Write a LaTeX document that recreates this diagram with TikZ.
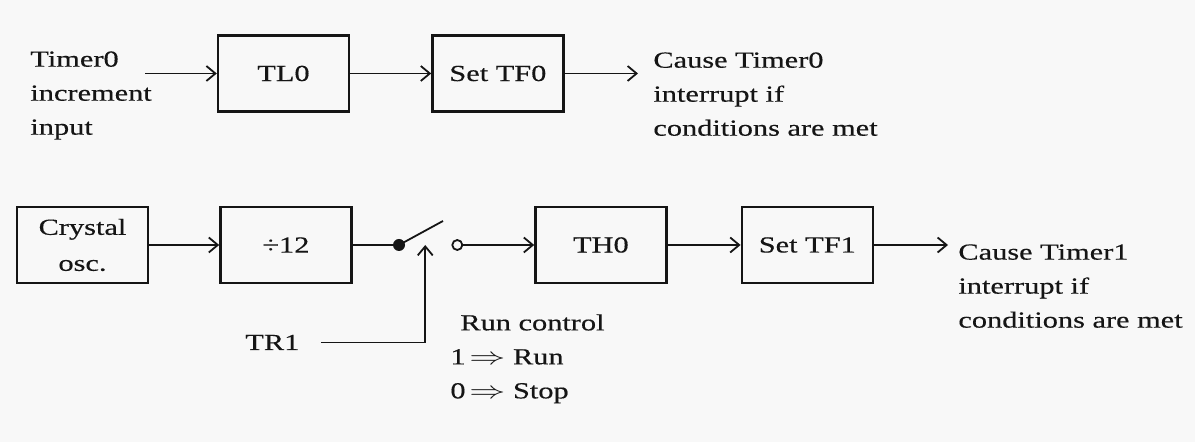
\documentclass[tikz,border=0pt]{standalone}
\usepackage{fontspec}
\setmainfont{Liberation Serif}[FakeStretch=1.32,FakeBold=0.4]
\usepackage{graphicx}
\usepackage{tikz}
\usetikzlibrary{positioning,arrows.meta,calc}
\definecolor{ink}{HTML}{151515}
\definecolor{paper}{HTML}{F8F8F8}
\newcommand{\impl}{\scalebox{1.5}[1]{$\Rightarrow$}}

\begin{document}
\begin{tikzpicture}[x=0.5pt,y=-0.5pt,font=\fontsize{11.5}{17}\selectfont,
   >={Straight Barb[length=4.5pt,width=7.5pt]},
   blk/.style={draw=ink,line width=1.2pt,minimum width=65.5pt,minimum height=38pt,inner sep=0pt,align=center,text=ink},
   txt/.style={align=left,inner sep=0pt,text=ink,anchor=north west},
   wire/.style={draw=ink,line width=0.9pt},
   dot/.style={circle,fill=ink,inner sep=0pt,minimum size=6pt},
   ring/.style={circle,draw=ink,line width=0.9pt,inner sep=0pt,minimum size=5pt}]
  \fill[paper] (0,0) rectangle (1195,442);
  % Timer0, low byte
  \node[blk] (tl0) at (283.5,73.5) {TL0};
  \node[blk,right=40.5pt of tl0] (tf0) {Set TF0};
  \node[txt] (inc0) at (30,51) {Timer0\\increment\\input};
  \node[txt] (cause0) at (653,52) {Cause Timer0\\interrupt if\\conditions are met};
  \coordinate (in0) at (145,73.5);
  \coordinate (out0) at (638,73.5);
  \draw[wire,->] (in0) -- (tl0);
  \draw[wire,->] (tl0) -- (tf0);
  \draw[wire,->] (tf0) -- (out0);
  % Timer1 path with run switch
  \node[blk] (osc) at (82.5,245) {Crystal\\[1pt]osc.};
  \node[blk,right=35pt of osc] (div) {÷12};
  \node[dot,right=20pt of div] (sw1) {};
  \node[ring,right=23pt of sw1] (sw2) {};
  \node[blk,right=35.5pt of sw2] (th0) {TH0};
  \node[blk,right=36.5pt of th0] (tf1) {Set TF1};
  \node[txt] (cause1) at (958,244) {Cause Timer1\\interrupt if\\conditions are met};
  \node[inner sep=0pt,text=ink,anchor=base west] (tr1) at (245,350) {TR1};
  \node[txt] (run) at (450,314) {\hspace{5pt}Run control\\1\,\impl\ Run\\0\,\impl\ Stop};
  \coordinate (ctl) at ($(sw1)!0.45!(sw2)$);
  \coordinate (out1) at ([xshift=37pt]tf1.east);
  \draw[wire,->] (osc) -- (div);
  \draw[wire] (div) -- (sw1);
  \draw[wire] (sw1.center) -- ++(44,-24);
  \draw[wire,->] (sw2) -- (th0);
  \draw[wire,->] (th0) -- (tf1);
  \draw[wire,->] (tf1) -- (out1);
  \draw[wire,->] ([xshift=10.5pt]tr1.east) -| (ctl);
\end{tikzpicture}
\end{document}
